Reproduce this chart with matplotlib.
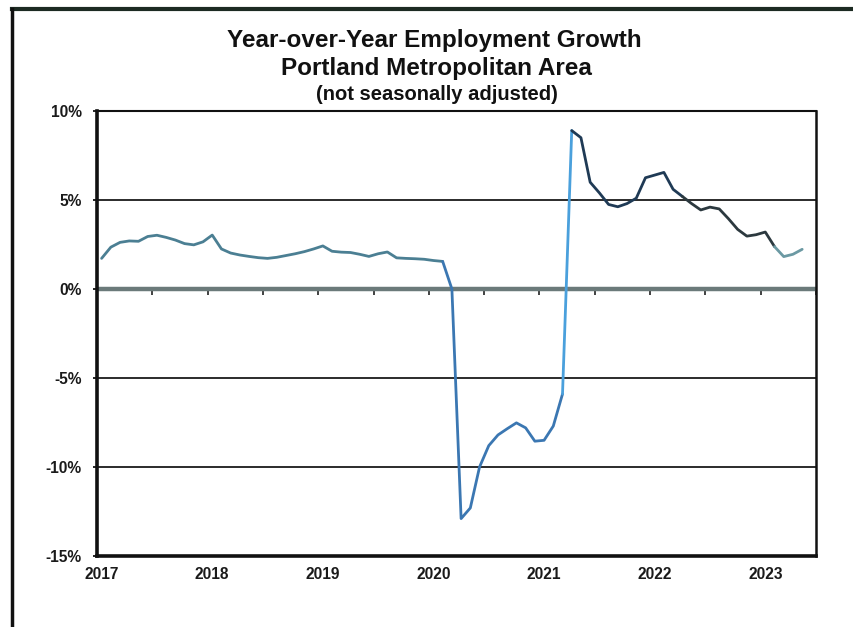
import numpy as np
import matplotlib
matplotlib.use("Agg")
import matplotlib.pyplot as plt
from matplotlib.lines import Line2D

# ---------------- data (monthly YoY employment growth, %) ----------------
start_year = 2017
growth_2017 = [1.72, 2.35, 2.62, 2.70, 2.68, 2.95, 3.02, 2.90, 2.75, 2.55, 2.48, 2.65]
growth_2018 = [3.03, 2.25, 2.02, 1.91, 1.83, 1.76, 1.72, 1.78, 1.88, 1.98, 2.10, 2.25]
growth_2019 = [2.42, 2.12, 2.07, 2.05, 1.95, 1.83, 1.98, 2.08, 1.75, 1.72, 1.70, 1.67]
growth_2020 = [1.60, 1.55, 0.00, -12.90, -12.30, -10.00, -8.80, -8.20, -7.85, -7.52, -7.80, -8.55]
growth_2021 = [-8.50, -7.70, -5.90, 8.90, 8.50, 6.00, 5.40, 4.75, 4.62, 4.80, 5.10, 6.25]
growth_2022 = [6.40, 6.55, 5.60, 5.20, 4.80, 4.44, 4.60, 4.50, 3.95, 3.35, 2.97, 3.05]
growth_2023 = [3.20, 2.38, 1.82, 1.95, 2.23]

year_labels = ["2017", "2018", "2019", "2020", "2021", "2022", "2023"]
y_ticks = [-15, -10, -5, 0, 5, 10]
y_tick_labels = ["-15%", "-10%", "-5%", "0%", "5%", "10%"]

title_line1 = "Year-over-Year Employment Growth"
title_line2 = "Portland Metropolitan Area"
title_line3 = "(not seasonally adjusted)"

# ---------------- build series ----------------
all_years = [growth_2017, growth_2018, growth_2019, growth_2020,
             growth_2021, growth_2022, growth_2023]
xs, ys = [], []
for i, vals in enumerate(all_years):
    for m, v in enumerate(vals):
        xs.append(start_year + i + (m + 0.5) / 12.0)   # centred in month slot
        ys.append(v)
xs = np.array(xs)
ys = np.array(ys)

# colour runs along the line (index ranges, inclusive overlap)
runs = [
    (0, 37, "#4b7f93"),
    (37, 50, "#3b77b2"),
    (50, 51, "#4aa0dc"),
    (51, 63, "#1f3a55"),
    (63, 73, "#2c393f"),
    (73, len(xs) - 1, "#6b99a3"),
]

W, H = 854, 627
fig = plt.figure(figsize=(W / 100, H / 100), dpi=100)
fig.patch.set_facecolor("white")

left, right, top, bottom = 97, 816, 111, 556
ax = fig.add_axes([left / W, 1 - bottom / H, (right - left) / W, (bottom - top) / H])
ax.set_xlim(start_year, start_year + 6.5)
ax.set_ylim(-15, 10)

# gridlines
for v in [-10, -5, 5]:
    ax.axhline(v, color="#1a1a1a", lw=1.3, zorder=1)
ax.axhline(0, color="#6b7a7a", lw=3.2, zorder=1)

# data line
for a, b, c in runs:
    ax.plot(xs[a:b + 1], ys[a:b + 1], color=c, lw=2.0,
            solid_capstyle="round", solid_joinstyle="round", zorder=3)

# ticks on the 0% line (half-year)
sec = ax.secondary_xaxis(0.6)
sec.set_alignment("bottom")
sec.set_xticks(np.arange(start_year, start_year + 6.51, 0.5))
sec.tick_params(axis="x", direction="out", length=4, width=1.3, color="#333333",
                labelbottom=False, labeltop=False)
for s in sec.spines.values():
    s.set_visible(False)

# axis labels
ax.set_xticks([start_year + i + 1 / 24 for i in range(len(year_labels))])
ax.set_xticklabels(year_labels)
ax.tick_params(axis="x", length=0, pad=8)
ax.set_yticks(y_ticks)
ax.set_yticklabels(y_tick_labels)
ax.tick_params(axis="y", direction="out", length=3, width=1.2, pad=8)
for lab in ax.get_xticklabels() + ax.get_yticklabels():
    lab.set_fontfamily("Liberation Sans")
    lab.set_fontweight("bold")
    lab.set_fontsize(11.2)
    lab.set_color("#1a1a1a")

ax.spines["left"].set_linewidth(2.6)
ax.spines["bottom"].set_linewidth(2.6)
ax.spines["top"].set_linewidth(1.5)
ax.spines["right"].set_linewidth(1.8)
for s in ax.spines.values():
    s.set_color("#111111")

# titles
tkw = dict(ha="center", va="center", fontfamily="Liberation Sans",
           fontweight="bold", color="#111111")
fig.text(434 / W, 1 - 41 / H, title_line1, fontsize=17.5, **tkw)
fig.text(436 / W, 1 - 69 / H, title_line2, fontsize=17.5, **tkw)
fig.text(437 / W, 1 - 95 / H, title_line3, fontsize=14.5, **tkw)

# outer frame (top and left)
fig.add_artist(Line2D([12 / W, 1.0], [1 - 9 / H, 1 - 9 / H],
                      transform=fig.transFigure, color="#1c2a22", lw=3.0))
fig.add_artist(Line2D([12 / W, 12 / W], [0.0, 1 - 9 / H],
                      transform=fig.transFigure, color="#111111", lw=2.5))

fig.savefig("out.png", dpi=100, facecolor="white")
